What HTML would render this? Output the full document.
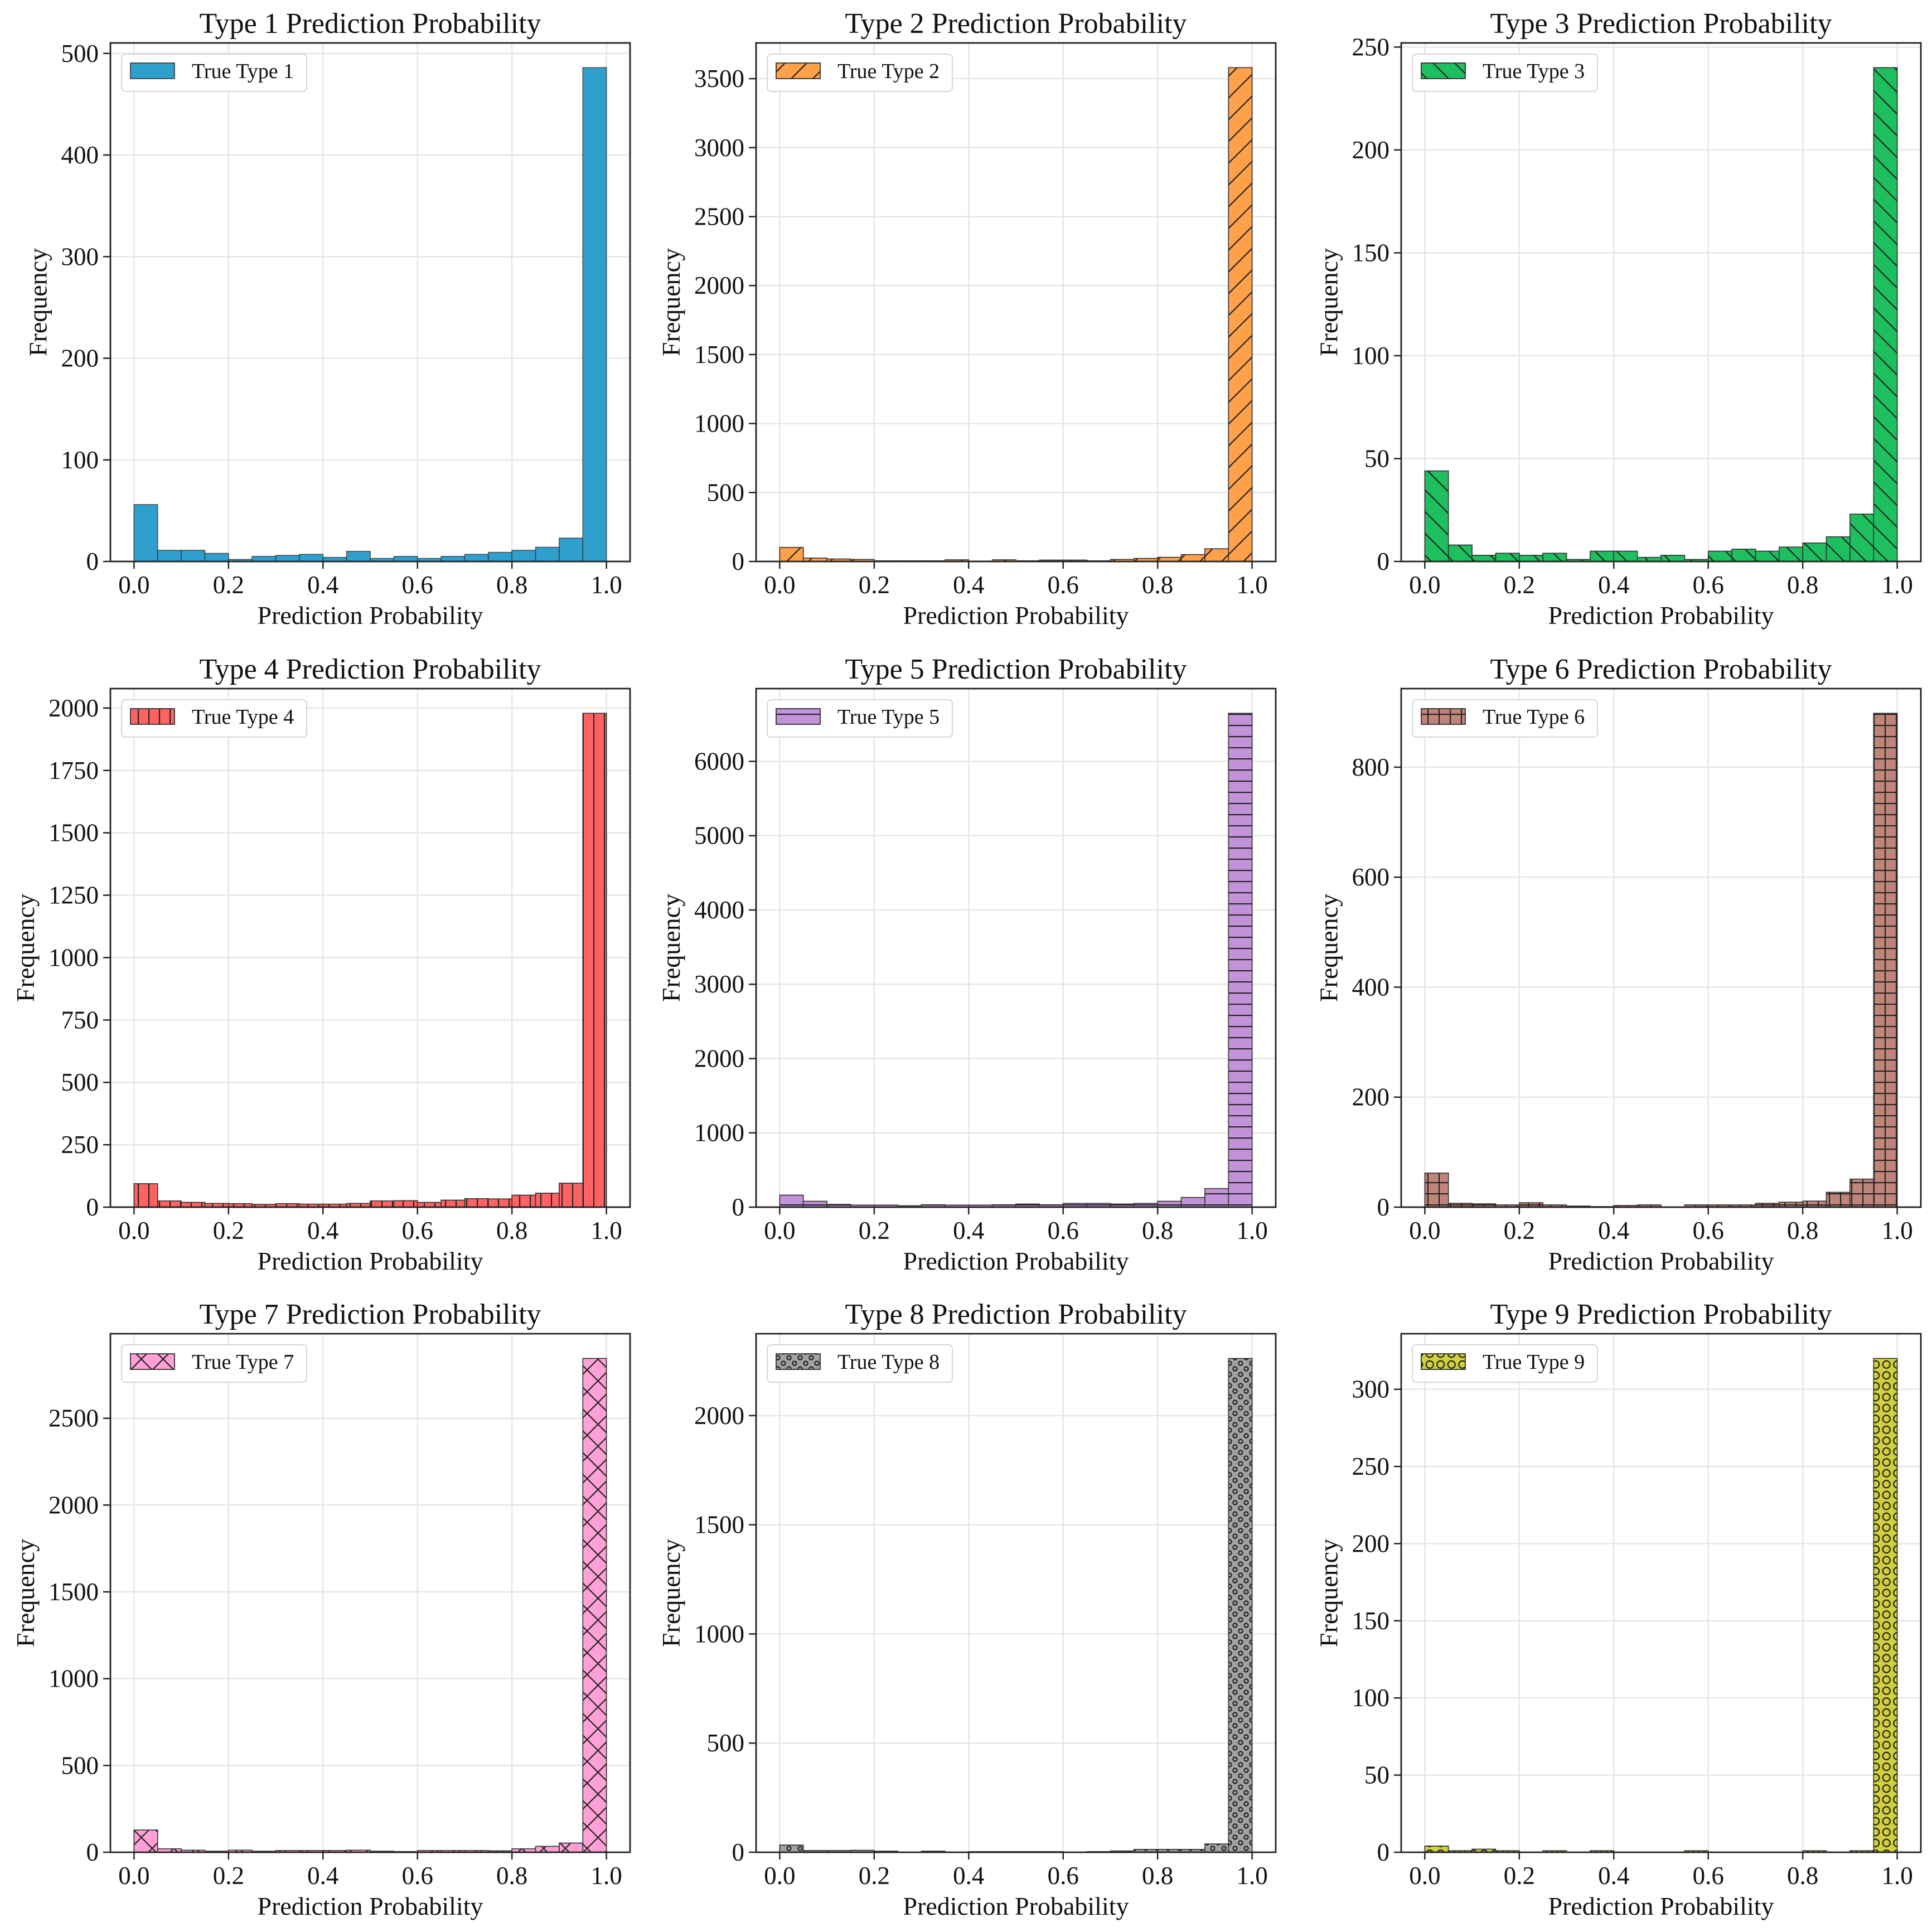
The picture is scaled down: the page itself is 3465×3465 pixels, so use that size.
<!DOCTYPE html>
<html><head><meta charset="utf-8"><style>
html,body{margin:0;padding:0;background:#fff;}
svg{display:block;font-family:"Liberation Serif","Times New Roman",serif;}
</style></head><body>
<svg id="fig" width="3465" height="3465" viewBox="0 0 3465 3465" xmlns="http://www.w3.org/2000/svg">
<rect width="3465" height="3465" fill="#fff"/>
<defs id="defs"></defs>
</svg>
<script>
// Data: 20 bins of width 0.05 over [0,1]
const binEdgesStep = 0.05;
const titles = ["Type 1 Prediction Probability","Type 2 Prediction Probability","Type 3 Prediction Probability","Type 4 Prediction Probability","Type 5 Prediction Probability","Type 6 Prediction Probability","Type 7 Prediction Probability","Type 8 Prediction Probability","Type 9 Prediction Probability"];
const legendLabels = ["True Type 1","True Type 2","True Type 3","True Type 4","True Type 5","True Type 6","True Type 7","True Type 8","True Type 9"];
const counts1 = [56,11,11,8,2,5,6,7,4,10,3,5,3,5,7,9,11,14,23,486];
const counts2 = [102,25,18,15,5,5,5,12,3,12,5,10,10,5,15,22,30,50,92,3580];
const counts3 = [44,8,3,4,3,4,1,5,5,2,3,1,5,6,5,7,9,12,23,240];
const counts4 = [94,25,19,15,14,11,14,12,12,15,25,26,19,28,34,33,48,56,96,1979];
const counts5 = [162,79,37,28,28,19,32,28,28,32,42,32,51,51,42,51,79,130,250,6647];
const counts6 = [62,7,6,4,8,4,2,1,3,4,0,4,4,4,7,9,11,27,51,898];
const counts7 = [128,20,12,6,12,6,10,10,10,12,6,4,10,10,10,8,20,34,53,2845];
const counts8 = [33,8,8,9,5,0,5,0,3,3,3,3,0,3,6,13,13,13,38,2262];
const counts9 = [4,1,2,1,0,1,0,1,0,0,0,1,0,0,0,0,1,0,1,320];
const yTickStep = [100,500,50,250,1000,200,500,500,50];
const yTickMax = [500,3500,250,2000,6000,800,2500,2000,300];
const xTicks = [0.0,0.2,0.4,0.6,0.8,1.0];
const xTickLabels = ["0.0","0.2","0.4","0.6","0.8","1.0"];

const allCounts=[counts1,counts2,counts3,counts4,counts5,counts6,counts7,counts8,counts9];
const colors=["#2F9FCE","#FFA04A","#1DBF5F","#FF6262","#C293D8","#BF857B","#FFA0D6","#A2A2A2","#CFCF40"];
const hatches=["","/","\\","|","-","+","x","o","O"];
const NS="http://www.w3.org/2000/svg";
const svg=document.getElementById('fig');
const defs=document.getElementById('defs');
function mk(tag,attrs,parent){const e=document.createElementNS(NS,tag);for(const k in attrs)e.setAttribute(k,attrs[k]);(parent||svg).appendChild(e);return e;}

function makePattern(id,h){
  let s,content;
  const st='stroke="#222" stroke-width="2.2" fill="none"';
  if(h==="/"){s=39;content=`<path d="M-5,${s+5}L${s+5},-5 M-5,5L5,-5 M${s-5},${s+5}L${s+5},${s-5}" ${st}/>`;}
  else if(h==="\\"){s=39;content=`<path d="M-5,-5L${s+5},${s+5} M-5,${s-5}L5,${s+5} M${s-5},-5L${s+5},5" ${st}/>`;}
  else if(h==="|"){s=19;content=`<path d="M1,0V${s}" ${st}/>`;}
  else if(h==="-"){s=20;content=`<path d="M0,1H${s}" ${st}/>`;}
  else if(h==="+"){s=20;content=`<path d="M1,0V${s}M0,1H${s}" ${st}/>`;}
  else if(h==="x"){s=39;content=`<path d="M0,0L${s},${s}M0,${s}L${s},0" ${st}/>`;}
  else if(h==="o"){s=20;content=`<circle cx="5" cy="5" r="3.6" ${st}/><circle cx="15" cy="15" r="3.6" ${st}/>`;}
  else if(h==="O"){s=19.5;content=`<circle cx="9.75" cy="9.75" r="6.5" ${st}/>`;}
  const p=document.createElementNS(NS,'pattern');
  p.setAttribute('id',id);p.setAttribute('patternUnits','userSpaceOnUse');
  p.setAttribute('width',s);p.setAttribute('height',s);
  p.innerHTML=content;defs.appendChild(p);
}

const colLeft=[198,1356,2513], rowTop=[77,1235,2392], W=932, H=930;
for(let k=0;k<9;k++){
  const L=colLeft[k%3], T=rowTop[Math.floor(k/3)];
  const data=allCounts[k];
  const ymax=Math.max(...data)*1.05;
  const X=v=>L+(v+0.05)/1.1*W;
  const Y=v=>T+H-v/ymax*H;
  const g=mk('g',{});
  
  
  if(hatches[k]) makePattern('h'+k,hatches[k]);
  for(let t=0;t<=yTickMax[k];t+=yTickStep[k]){
    const gl=mk('line',{x1:L,x2:L+W,y1:Y(t),y2:Y(t),stroke:'#e6e6e6','stroke-width':2.5},g);
    
    
  }
  xTicks.forEach(t=>{
    const gl=mk('line',{x1:X(t),x2:X(t),y1:T,y2:T+H,stroke:'#e6e6e6','stroke-width':2.5},g);
    
    
  });
  data.forEach((v,i)=>{
    const x0=X(i*binEdgesStep), x1=X((i+1)*binEdgesStep), y=Y(v);
    const r=mk('rect',{x:x0,y:y,width:x1-x0,height:T+H-y,fill:colors[k],stroke:'#333','stroke-opacity':0.8,'stroke-width':1.6},g);
    
    
    if(hatches[k]&&v>0){
      const hr=mk('rect',{x:x0,y:y,width:x1-x0,height:T+H-y,fill:'url(#h'+k+')',stroke:'#333','stroke-opacity':0.8,'stroke-width':1.6},g);
      
      
    }
  });
  const sp=mk('rect',{x:L,y:T,width:W,height:H,fill:'none',stroke:'#222','stroke-width':2.8},g);
  
  
  xTicks.forEach((t,i)=>{
    const tk=mk('line',{x1:X(t),x2:X(t),y1:T+H,y2:T+H+13,stroke:'#222','stroke-width':2.5},g);
    
    
    const tl=mk('text',{x:X(t),y:T+H+57,'text-anchor':'middle','font-size':45,fill:'#111'},g);
    tl.textContent=xTickLabels[i];
    
    
  });
  for(let t=0;t<=yTickMax[k];t+=yTickStep[k]){
    const tk=mk('line',{x1:L-13,x2:L,y1:Y(t),y2:Y(t),stroke:'#222','stroke-width':2.5},g);
    
    
    const tl=mk('text',{x:L-21,y:Y(t)+15,'text-anchor':'end','font-size':45,fill:'#111'},g);
    tl.textContent=String(t);
    
    
  }
  const ti=mk('text',{x:L+W/2,y:T-18,'text-anchor':'middle','font-size':52,fill:'#111'},g);
  ti.textContent=titles[k];
  
  
  const xl=mk('text',{x:L+W/2,y:T+H+112,'text-anchor':'middle','font-size':46,fill:'#111'},g);
  xl.textContent='Prediction Probability';
  
  
  const nd=String(yTickMax[k]).length;
  const yx=L-(47+nd*22.5), yy=T+H/2;
  const yl=mk('text',{x:yx,y:yy,'text-anchor':'middle','font-size':46,fill:'#111',transform:`rotate(-90 ${yx} ${yy})`},g);
  yl.textContent='Frequency';
  
  
  const lg=mk('g',{},g);
  
  
  mk('rect',{x:L+20,y:T+20,width:332,height:67,rx:7,fill:'#fff','fill-opacity':0.85,stroke:'#d6d6d6','stroke-width':2},lg);
  const lp=mk('rect',{x:L+36,y:T+36,width:79,height:28,fill:colors[k],stroke:'#333','stroke-width':1.6},lg);
  
  
  if(hatches[k]) mk('rect',{x:L+36,y:T+36,width:79,height:28,fill:'url(#h'+k+')',stroke:'#333','stroke-width':1.6},lg);
  const lt=mk('text',{x:L+146,y:T+63,'font-size':38,fill:'#111'},lg);
  lt.textContent=legendLabels[k];
  
  
}
</script>
</body></html>
